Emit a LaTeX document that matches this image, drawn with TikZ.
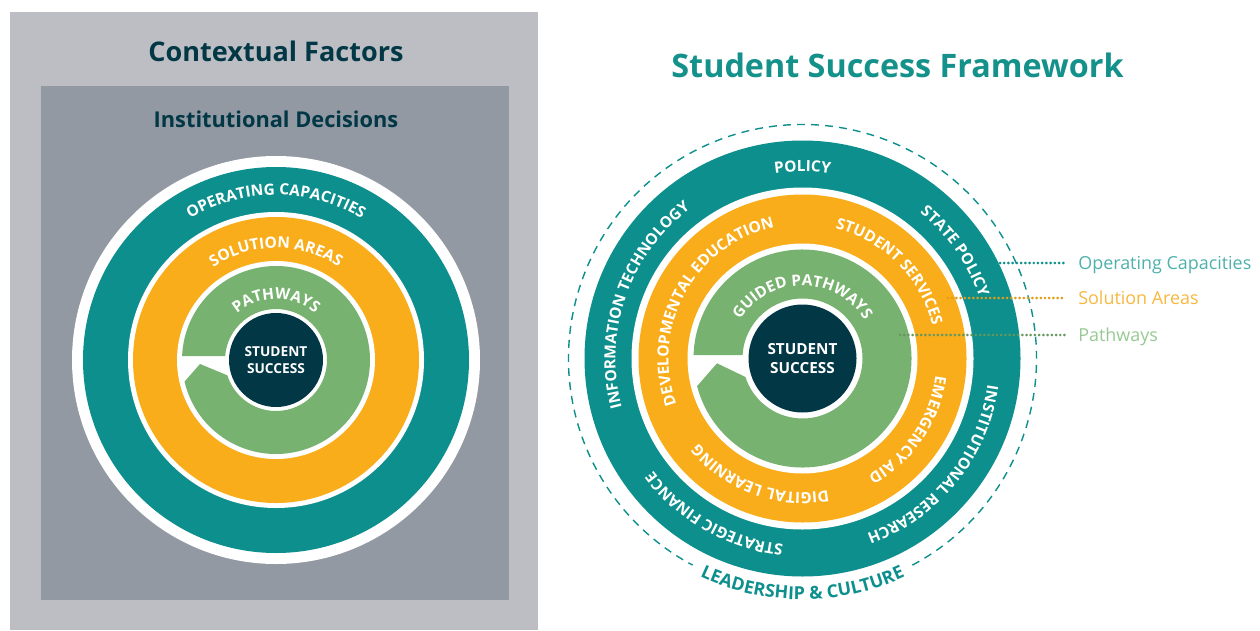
\documentclass[tikz,border=0pt]{standalone}
\usepackage{fontspec}
\setmainfont{Open Sans}
\usepackage{tikz}
\usetikzlibrary{decorations.text,calc}

\definecolor{ringteal}{HTML}{0C8F8D}
\definecolor{ringorange}{HTML}{F9AD1A}
\definecolor{ringgreen}{HTML}{78B270}
\definecolor{coredark}{HTML}{023746}
\definecolor{greylight}{HTML}{BCBEC3}
\definecolor{greydark}{HTML}{9299A3}
\definecolor{titleteal}{HTML}{14918B}
\definecolor{labteal}{HTML}{4DB0AC}
\definecolor{laborange}{HTML}{F8B73E}
\definecolor{labgreen}{HTML}{97C892}

\newcommand{\ringfont}{\fontsize{8.8}{10}\selectfont\bfseries}
% text on a ring, read clockwise: centre, baseline radius, mid angle, text
\newcommand{\cwtext}[4]{%
  \path[decorate,decoration={text along path,text align=center,text color=white,
    text={|\ringfont|#4}}]
    ($(#1)+(#3+85:#2)$) arc[start angle=#3+85,end angle=#3-85,radius=#2];}
% the ampersand as a plain character, for the text on the dashed ring
\begingroup\catcode`\&=12
\gdef\leadtext{|\fontsize{10.2}{12}\selectfont\bfseries|LEADERSHIP & CULTURE}
\endgroup

\begin{document}
\begin{tikzpicture}[x=0.02cm,y=0.02cm,
  core/.style={circle,fill=coredark,text=white,font=\bfseries,align=center,inner sep=0},
  head/.style={font=\bfseries,text=coredark},
  lab/.style={anchor=west,inner xsep=6.8pt,inner ysep=0,text depth=0pt,font=\fontsize{10.2}{12}\selectfont},
  leader/.style={line width=1.7pt,line cap=round,dash pattern=on 0pt off 2.4pt}]
\useasboundingbox (0,0) rectangle (1260,630);
\coordinate (L) at (276,270);
\coordinate (R) at (802.5,271.5);

%% left: contextual factors
\fill[greylight] (10,0) rectangle (538,618);
\fill[greydark] (41,30) rectangle (509,544);
\node[head,font=\fontsize{15.4}{18}\selectfont\bfseries] (ctx) at (276,579) {Contextual Factors};
\node[head,font=\fontsize{12.4}{15}\selectfont\bfseries] (inst) at (276,511) {Institutional Decisions};
\fill[white] (L) circle[radius=204];
\fill[ringteal] (L) circle[radius=193];
\fill[white] (L) circle[radius=148];
\fill[ringorange] (L) circle[radius=143];
\fill[white] (L) circle[radius=99];
\begin{scope}[shift={(L)}]
\fill[ringgreen] (177.56:94) -- (175.5:51) arc[start angle=175.5,end angle=-162.5,radius=51]
  -- (-76,-4) -- (-166.7:94) arc[start angle=-166.7,end angle=177.56,radius=94] -- cycle;
\end{scope}
\node[core,minimum size=94*0.02cm,font=\fontsize{7.8}{9.5}\selectfont\bfseries] (ssL) at (L) {STUDENT\\SUCCESS};
\cwtext{L}{165}{90}{OPERATING CAPACITIES}
\cwtext{L}{112}{90}{SOLUTION AREAS}
\cwtext{L}{61}{90}{PATHWAYS}

%% right: student success framework
\node[font=\fontsize{18.4}{22}\selectfont\bfseries,text=titleteal] (ssf) at (897.5,565) {Student Success Framework};
\draw[ringteal,line width=0.8pt,dash pattern=on 4.5pt off 3.5pt]
  ($(R)+(298:234)$) arc[start angle=298,end angle=602,radius=234];
\fill[ringteal] (R) circle[radius=218];
\fill[white] (R) circle[radius=171];
\fill[ringorange] (R) circle[radius=164];
\fill[white] (R) circle[radius=115];
\begin{scope}[shift={(R)}]
\fill[ringgreen] (178.16:109) -- (176.66:60) arc[start angle=176.66,end angle=-162.1,radius=60]
  -- (-85.5,-4.8) -- (-165.3:109) arc[start angle=-165.3,end angle=178.16,radius=109] -- cycle;
\end{scope}
\node[core,minimum size=108*0.02cm,font=\fontsize{8.7}{10.5}\selectfont\bfseries] (ssR) at (R) {STUDENT\\SUCCESS};
% operating capacities
\cwtext{R}{187}{90}{POLICY}
\cwtext{R}{187}{35}{STATE POLICY}
\cwtext{R}{187}{-39}{INSTITUTIONAL RESEARCH}
\cwtext{R}{187}{-119.5}{STRATEGIC FINANCE}
\cwtext{R}{187}{161}{INFORMATION TECHNOLOGY}
% solution areas
\cwtext{R}{134}{151}{DEVELOPMENTAL EDUCATION}
\cwtext{R}{134}{45}{STUDENT SERVICES}
\cwtext{R}{134}{-34}{EMERGENCY AID}
\cwtext{R}{134}{-110}{DIGITAL LEARNING}
% pathways
\cwtext{R}{73}{90}{GUIDED PATHWAYS}
\path[decorate,decoration={text along path,text align=center,text color=ringteal,
  text/.expand once=\leadtext}]
  ($(R)+(190:241)$) arc[start angle=190,end angle=350,radius=241];

%% key
\coordinate (opS) at (1000,367);
\coordinate (soS) at (948,332);
\coordinate (paS) at (900,295);
\node[lab,text=labteal] (op) at (1066,367) {Operating Capacities};
\node[lab,text=laborange] (so) at (1066,332) {Solution Areas};
\node[lab,text=labgreen] (pa) at (1066,295) {Pathways};
\draw[leader,ringteal] (opS) -- (op.west);
\draw[leader,ringorange!90!black] (soS) -- (so.west);
\draw[leader,ringgreen!85!black] (paS) -- (pa.west);
\end{tikzpicture}
\end{document}
